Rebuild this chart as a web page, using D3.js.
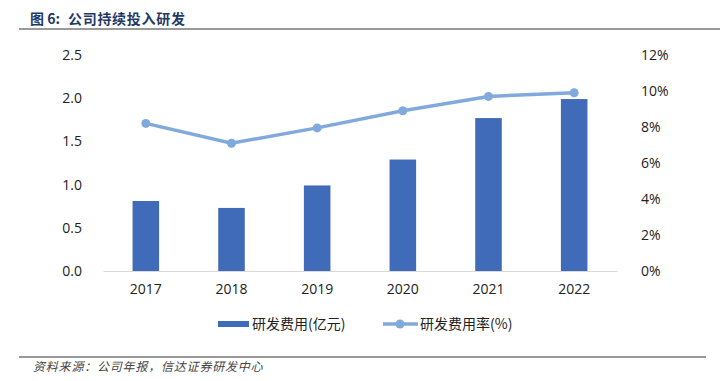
<!DOCTYPE html>
<html>
<head>
<meta charset="utf-8">
<script src="https://cdn.jsdelivr.net/npm/d3@7"></script>
<style>
  body { margin: 0; background: #fff; }
  svg text { font-family: "Noto Sans CJK SC", "Liberation Sans", sans-serif; }
  .tick text { font-family: "Open Sans", "Liberation Sans", sans-serif; }
</style>
</head>
<body>
<svg id="chart" width="720" height="381"></svg>
<script>
var years   = ["2017", "2018", "2019", "2020", "2021", "2022"];
var rdCost  = [0.81, 0.73, 0.99, 1.29, 1.77, 1.99];   // 亿元
var rdRate  = [8.2, 7.1, 7.95, 8.9, 9.7, 9.9];        // %
var leftTicks  = [0, 0.5, 1.0, 1.5, 2.0, 2.5];
var rightTicks = [0, 2, 4, 6, 8, 10, 12];

var svg = d3.select("#chart");
var margin = {left: 103, right: 103, top: 55, bottom: 110};
var width  = 720 - margin.left - margin.right,
    height = 381 - margin.top - margin.bottom;

var barColor  = "#3F6BB8",
    lineColor = "#82A9DC";

// title
svg.append("text")
    .attr("x", 30).attr("y", 24)
    .attr("font-size", "14px")
    .attr("font-weight", "bold")
    .attr("fill", "#1F3A66")
    .text("图 6:");
svg.append("text")
    .attr("x", 68).attr("y", 24)
    .attr("font-size", "14px")
    .attr("font-weight", "bold")
    .attr("letter-spacing", "0.7px")
    .attr("fill", "#1F3A66")
    .text("公司持续投入研发");
svg.append("line")
    .attr("x1", 19).attr("x2", 720)
    .attr("y1", 29).attr("y2", 29)
    .attr("stroke", "#9a9a9a").attr("stroke-width", 2);

var g = svg.append("g")
    .attr("transform", "translate(" + margin.left + "," + margin.top + ")");

var x = d3.scaleBand().domain(years).range([0, width]).paddingInner(0.69).paddingOuter(0.345);
var xc = function(d) { return x(d) + x.bandwidth() / 2; };
var yL = d3.scaleLinear().domain([0, 2.5]).range([height, 0]);
var yR = d3.scaleLinear().domain([0, 12]).range([height, 0]);

// axes
var axL = g.append("g")
    .call(d3.axisLeft(yL).tickValues(leftTicks).tickFormat(d3.format(".1f")).tickSize(0).tickPadding(21));
axL.select(".domain").remove();
var axR = g.append("g")
    .attr("transform", "translate(" + width + ",0)")
    .call(d3.axisRight(yR).tickValues(rightTicks).tickFormat(function(d) { return d + "%"; }).tickSize(0).tickPadding(24));
axR.select(".domain").remove();
var axB = g.append("g")
    .attr("transform", "translate(0," + height + ")")
    .call(d3.axisBottom(x).tickSize(0).tickPadding(13));
axB.select(".domain").attr("stroke", "#d9d9d9").attr("stroke-width", 1);

g.selectAll(".tick text").attr("font-size", "14px").attr("fill", "#222");

// bars
g.selectAll(".bar")
    .data(rdCost)
    .enter().append("rect")
    .attr("class", "bar")
    .attr("x", function(d, i) { return x(years[i]); })
    .attr("y", function(d) { return yL(d); })
    .attr("width", x.bandwidth())
    .attr("height", function(d) { return height - yL(d); })
    .attr("fill", barColor);

// rate line
var line = d3.line()
    .x(function(d, i) { return xc(years[i]); })
    .y(function(d) { return yR(d); });
g.append("path")
    .datum(rdRate)
    .attr("d", line)
    .attr("fill", "none")
    .attr("stroke", lineColor)
    .attr("stroke-width", 3.5);
g.selectAll(".dot")
    .data(rdRate)
    .enter().append("circle")
    .attr("class", "dot")
    .attr("cx", function(d, i) { return xc(years[i]); })
    .attr("cy", function(d) { return yR(d); })
    .attr("r", 4.5)
    .attr("fill", lineColor);

// legend
var lg = svg.append("g");
lg.append("rect")
    .attr("x", 218).attr("y", 321)
    .attr("width", 31).attr("height", 6)
    .attr("fill", barColor);
lg.append("text")
    .attr("x", 252).attr("y", 329)
    .attr("font-size", "14px").attr("fill", "#222")
    .text("研发费用(亿元)");
lg.append("line")
    .attr("x1", 383).attr("x2", 418)
    .attr("y1", 324).attr("y2", 324)
    .attr("stroke", lineColor).attr("stroke-width", 3.5);
lg.append("circle")
    .attr("cx", 400).attr("cy", 324).attr("r", 4.5)
    .attr("fill", lineColor);
lg.append("text")
    .attr("x", 420).attr("y", 329)
    .attr("font-size", "14px").attr("fill", "#222")
    .text("研发费用率(%)");

// source
svg.append("line")
    .attr("x1", 19).attr("x2", 706)
    .attr("y1", 357).attr("y2", 357)
    .attr("stroke", "#333").attr("stroke-width", 1);
svg.append("text")
    .attr("x", 33).attr("y", 371)
    .attr("font-size", "12px")
    .attr("font-style", "italic")
    .attr("letter-spacing", "0.8px")
    .attr("fill", "#444")
    .text("资料来源：公司年报，信达证券研发中心");
</script>
</body>
</html>
